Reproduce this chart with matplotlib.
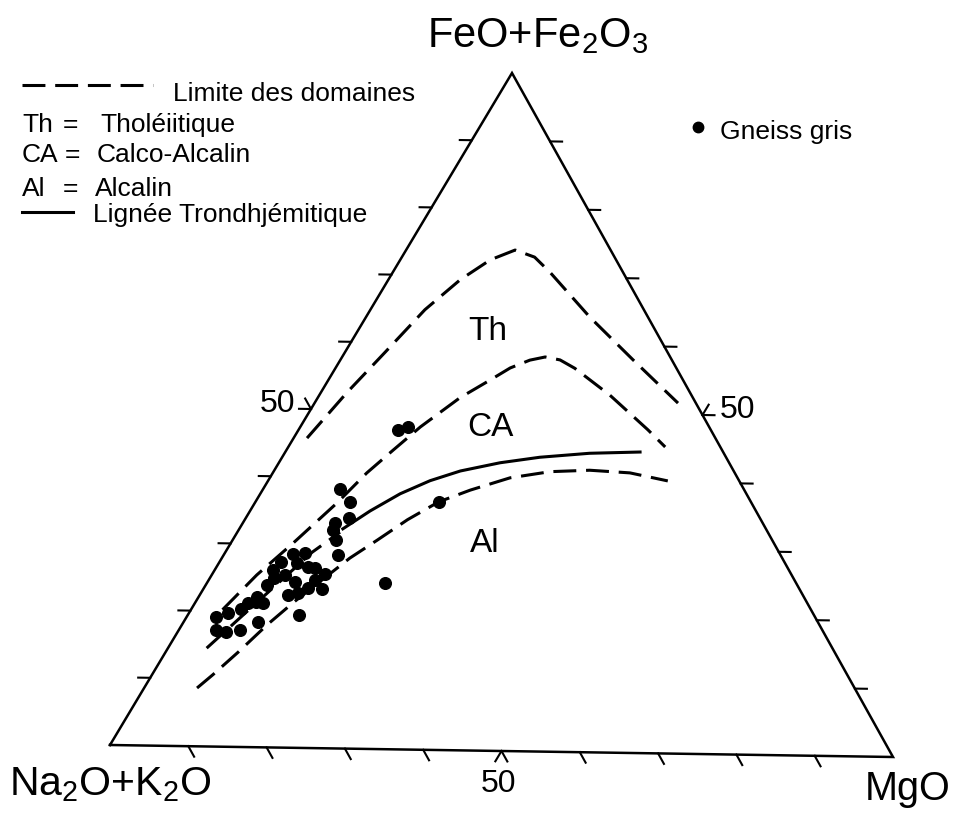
import matplotlib.pyplot as plt
import numpy as np

plt.rcParams['font.family'] = ['Liberation Sans', 'DejaVu Sans']

# Gneiss gris, AFM wt% : FeO+Fe2O3 and MgO (Na2O+K2O = rest)
gneiss_fe = [47.1, 47.6, 38.3, 36.4, 34.0, 33.3, 32.2, 30.7, 28.5, 36.6,
             24.5, 19.6, 19.1, 19.7, 17.2, 16.9, 17.3, 18.5, 20.4, 21.3,
             21.4, 21.3, 22.2, 23.9, 25.0, 26.2, 27.4, 28.6, 28.8, 27.3,
             26.6, 25.7, 23.5, 23.6, 22.8, 22.5, 24.5, 26.7, 25.5, 24.8]
gneiss_mg = [12.6, 13.6, 9.7, 11.9, 13.1, 11.7, 11.9, 13.1, 14.5, 23.2,
             22.5, 14.1, 3.7, 4.9, 4.7, 6.1, 7.7, 9.4, 6.3, 6.7,
             7.7, 8.6, 7.4, 7.8, 8.1, 7.4, 7.8, 8.7, 10.1, 9.9,
             12.5, 14.3, 15.0, 13.2, 12.3, 11.2, 11.1, 11.6, 9.3, 13.5]

# limite superieure du domaine tholeiitique
th_fe = [45.7, 52.5, 58.6, 64.9, 69.4, 72.4, 73.9, 72.9, 70.7, 64.2, 58.0, 51.7]
th_mg = [1.7, 3.3, 5.1, 6.9, 9.1, 11.4, 13.8, 16.8, 19.9, 28.3, 37.0, 46.0]
# limite Th / CA
ca_fe = [20.2, 25.4, 30.2, 36.2, 40.7, 44.1, 47.6, 52.0, 54.7, 56.5, 57.7, 58.2, 57.8, 56.6, 52.7, 47.7, 45.2]
ca_mg = [4.0, 5.7, 7.9, 10.4, 11.9, 13.5, 15.2, 18.0, 20.5, 22.1, 24.0, 25.7, 27.8, 30.3, 36.8, 44.2, 47.7]
# limite CA / Al
al_fe = [8.6, 10.6, 14.0, 18.1, 21.4, 28.1, 30.8, 33.9, 36.6, 38.4, 40.3, 41.3, 41.6, 41.3, 40.2]
al_mg = [6.7, 7.7, 9.2, 10.8, 12.4, 16.2, 18.3, 20.6, 23.2, 26.3, 30.4, 35.0, 39.9, 45.2, 50.6]
# lignee trondhjemitique
tr_fe = [32.4, 35.1, 37.7, 39.7, 41.2, 42.5, 43.4, 44.1, 44.4]
tr_mg = [13.1, 15.2, 17.7, 20.5, 23.6, 28.0, 32.6, 38.6, 44.9]
tr_dash_fe = [14.5, 28.9, 31.9]
tr_dash_mg = [4.9, 11.0, 13.0]

ticks = np.arange(10, 100, 10)

# corners of the (slightly tilted) triangle on the page
A = np.array([110.0, 745.0])   # Na2O+K2O
M = np.array([893.0, 757.0])   # MgO
F = np.array([512.0, 73.0])    # FeO+Fe2O3


def tern(fe, mg):
    fe = np.asarray(fe) / 100.0
    mg = np.asarray(mg) / 100.0
    x = A[0] + mg * (M[0] - A[0]) + fe * (F[0] - A[0])
    y = A[1] + mg * (M[1] - A[1]) + fe * (F[1] - A[1])
    return x, y


def unit(v):
    return v / np.hypot(*v)


fig = plt.figure(figsize=(9.55, 8.14), dpi=100)
ax = fig.add_axes([0, 0, 1, 1])
ax.set_xlim(0, 955)
ax.set_ylim(814, 0)
ax.axis('off')

# triangle
tx, ty = tern([0, 0, 100, 0], [0, 100, 0, 0])
ax.plot(tx, ty, color='black', lw=1.8, solid_joinstyle='miter')

# ticks
L = 12
for t in ticks:
    f = t / 100.0
    pb = A + f * (M - A)
    pl = A + f * (F - A)
    pr = M + f * (F - M)
    dirs = [(pb, unit(M - F)), (pl, unit(A - M)), (pr, unit(M - A))]
    if t == 50:
        dirs += [(pb, unit(A - F)), (pl, unit(F - M)), (pr, unit(F - A))]
    for p, d in dirs:
        q = p + L * d
        ax.plot([p[0], q[0]], [p[1], q[1]], color='black', lw=1.5)

dash = (7.5, 3.2)
kw = dict(color='black', lw=2.2, dashes=dash, dash_capstyle='butt')
ax.plot(*tern(th_fe, th_mg), **kw)
ax.plot(*tern(ca_fe, ca_mg), **kw)
ax.plot(*tern(al_fe, al_mg), **kw)
ax.plot(*tern(tr_dash_fe, tr_dash_mg), **kw)
ax.plot(*tern(tr_fe, tr_mg), color='black', lw=2.2)

gx, gy = tern(gneiss_fe, gneiss_mg)
ax.plot(gx, gy, 'o', color='black', ms=8.4, zorder=5)

# apex labels
ax.text(538, 47, 'FeO+Fe$_\\mathregular{2}$O$_\\mathregular{3}$', ha='center', va='baseline', fontsize=30)
ax.text(9, 795, 'Na$_\\mathregular{2}$O+K$_\\mathregular{2}$O', ha='left', va='baseline', fontsize=29.5)
ax.text(865, 800, 'MgO', ha='left', va='baseline', fontsize=28.5)

# 50 labels
ax.text(498, 792, '50', ha='center', va='baseline', fontsize=23)
ax.text(295, 412, '50', ha='right', va='baseline', fontsize=23)
ax.text(720, 418, '50', ha='left', va='baseline', fontsize=23)

# domain labels
ax.text(488, 340, 'Th', ha='center', va='baseline', fontsize=24)
ax.text(490, 436, 'CA', ha='center', va='baseline', fontsize=24)
ax.text(485, 552, 'Al', ha='center', va='baseline', fontsize=24)

# legend, upper left
fs = 19
ax.plot([22, 153], [85, 85], **kw)
ax.text(173, 101, 'Limite des domaines', fontsize=fs, va='baseline')
ax.text(22, 132, 'Th', fontsize=fs, va='baseline')
ax.text(70, 132, '=', fontsize=fs, va='baseline', ha='center')
ax.text(100, 132, 'Tholéiitique', fontsize=fs, va='baseline')
ax.text(22, 162, 'CA', fontsize=fs, va='baseline')
ax.text(72, 162, '=', fontsize=fs, va='baseline', ha='center')
ax.text(97, 162, 'Calco-Alcalin', fontsize=fs, va='baseline')
ax.text(22, 196, 'Al', fontsize=fs, va='baseline')
ax.text(70, 196, '=', fontsize=fs, va='baseline', ha='center')
ax.text(95, 196, 'Alcalin', fontsize=fs, va='baseline')
ax.plot([22, 73], [212, 212], color='black', lw=2.2)
ax.text(93, 222, 'Lignée Trondhjémitique', fontsize=fs, va='baseline')

# symbol legend, upper right
ax.plot([698], [127], 'o', color='black', ms=7.5)
ax.text(720, 139, 'Gneiss gris', fontsize=fs, va='baseline')

plt.savefig('out.png', dpi=100)
